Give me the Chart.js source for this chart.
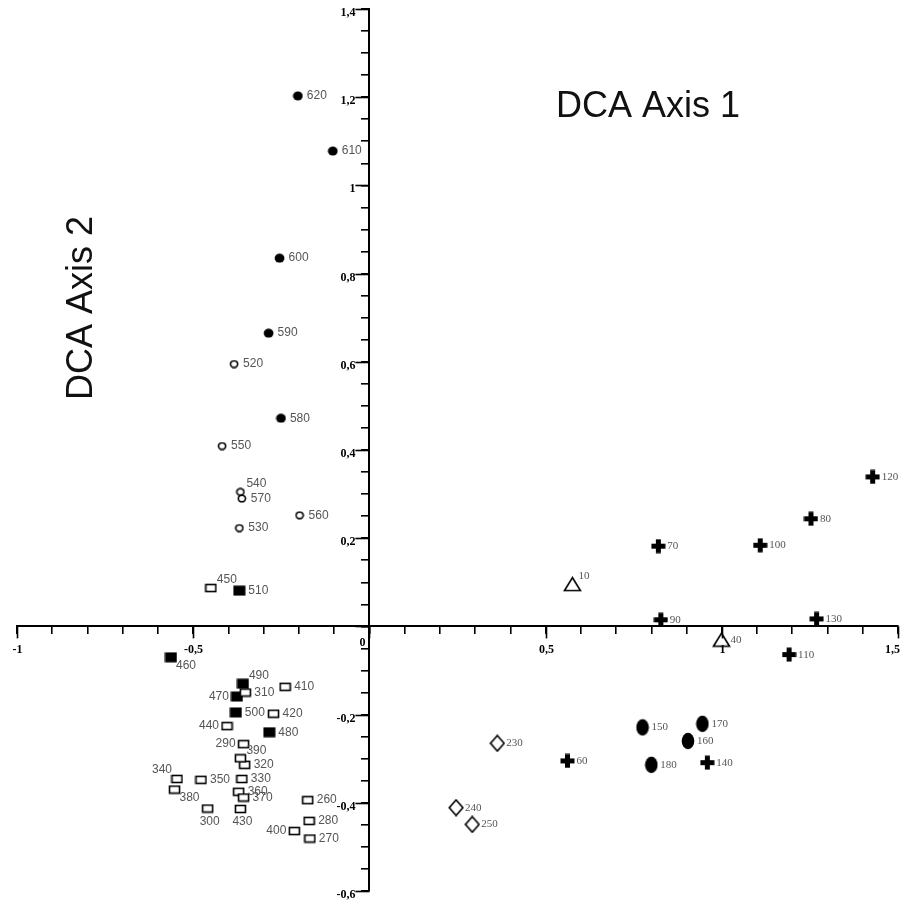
<!DOCTYPE html>
<html>
<head>
<meta charset="utf-8">
<script src="https://cdn.jsdelivr.net/npm/chart.js@4.4.1/dist/chart.umd.min.js"></script>
<style>
  html, body { margin: 0; padding: 0; background: #fff; overflow: hidden; }
  /* a few px wider than the window: chart.js keeps ~10px free on the right */
  #wrap { width: 907px; height: 902px; }
</style>
</head>
<body>
<div id="wrap"><canvas id="dca"></canvas></div>
<script>
// sites (sample depth) with their DCA scores
const sites = [10, 40,
    60, 70, 80, 90, 100, 110, 120, 130, 140,
    150, 160, 170, 180,
    230, 240, 250,
    260, 270, 280, 290, 300, 310, 320, 330, 340, 350, 360, 370, 380, 390, 400, 410, 420, 430, 440, 450,
    460, 470, 480, 490, 500, 510,
    520, 530, 540, 550, 560, 570,
    580, 590, 600, 610, 620];
const axis1 = [0.576, 0.999,
    0.562, 0.820, 1.253, 0.827, 1.109, 1.191, 1.428, 1.269, 0.959,
    0.775, 0.904, 0.945, 0.800,
    0.363, 0.246, 0.292,
    -0.175, -0.169, -0.171, -0.357, -0.459, -0.352, -0.354, -0.362, -0.546, -0.478, -0.371, -0.357, -0.553, -0.366, -0.213, -0.239, -0.272, -0.366, -0.404, -0.450,
    -0.563, -0.376, -0.284, -0.359, -0.379, -0.369,
    -0.384, -0.369, -0.366, -0.418, -0.198, -0.362,
    -0.251, -0.286, -0.255, -0.104, -0.203];
const axis2 = [0.096, -0.030,
    -0.305, 0.182, 0.244, 0.015, 0.184, -0.064, 0.339, 0.017, -0.309,
    -0.229, -0.260, -0.221, -0.314,
    -0.265, -0.411, -0.449,
    -0.394, -0.481, -0.441, -0.267, -0.413, -0.150, -0.314, -0.346, -0.346, -0.348, -0.375, -0.388, -0.370, -0.299, -0.464, -0.137, -0.198, -0.414, -0.226, 0.087,
    -0.070, -0.159, -0.240, -0.130, -0.195, 0.081,
    0.595, 0.223, 0.305, 0.409, 0.252, 0.290,
    0.472, 0.665, 0.835, 1.078, 1.203];
const groups = ['tri', 'tri',
    'plus', 'plus', 'plus', 'plus', 'plus', 'plus', 'plus', 'plus', 'plus',
    'bigdot', 'bigdot', 'bigdot', 'bigdot',
    'diamond', 'diamond', 'diamond',
    'open', 'open', 'open', 'open', 'open', 'open', 'open', 'open', 'open', 'open', 'open', 'open', 'open', 'open', 'open', 'open', 'open', 'open', 'open', 'open',
    'filled', 'filled', 'filled', 'filled', 'filled', 'filled',
    'ring', 'ring', 'ring', 'ring', 'ring', 'ring',
    'dot', 'dot', 'dot', 'dot', 'dot'];
const groupOrder = ['open', 'filled', 'ring', 'dot', 'plus', 'bigdot', 'tri', 'diamond'];

// where the site number goes when it isn't just to the right
const labelPos = {460: 'br', 490: 'tr', 470: 'l', 440: 'l', 290: 'l', 390: 'tr', 340: 'tl',
    380: 'br', 300: 'b', 430: 'b', 400: 'l', 450: 'tr', 540: 'tr', 10: 'tr'};

function marker(w, h, draw) {
    const c = document.createElement('canvas');
    c.width = w;
    c.height = h;
    const g = c.getContext('2d');
    g.fillStyle = '#000';
    g.strokeStyle = '#000';
    g.lineWidth = 1.6;
    draw(g, w, h);
    return c;
}

const markers = {
    open: marker(13, 10, g => { g.fillStyle = '#fff'; g.fillRect(1, 1, 11, 8); g.strokeRect(1.5, 1.5, 10, 7); }),
    filled: marker(13, 11, g => g.fillRect(0.5, 0.5, 12, 10)),
    ring: marker(10, 9, g => { g.fillStyle = '#fff'; g.beginPath(); g.ellipse(5, 4.5, 3.6, 3.3, 0, 0, 2 * Math.PI); g.fill(); g.stroke(); }),
    dot: marker(11, 10, g => { g.beginPath(); g.ellipse(5.5, 5, 4.9, 4.5, 0, 0, 2 * Math.PI); g.fill(); }),
    plus: marker(15, 15, g => { g.fillRect(5, 0.5, 5, 14); g.fillRect(0.5, 5, 14, 5); }),
    bigdot: marker(14, 18, g => { g.beginPath(); g.ellipse(7, 9, 6.3, 8.2, 0, 0, 2 * Math.PI); g.fill(); }),
    tri: marker(19, 16, g => { g.fillStyle = '#fff'; g.beginPath(); g.moveTo(9.5, 1.5); g.lineTo(17.5, 14.5); g.lineTo(1.5, 14.5); g.closePath(); g.fill(); g.stroke(); }),
    diamond: marker(16, 18, g => { g.fillStyle = '#fff'; g.beginPath(); g.moveTo(8, 1.2); g.lineTo(14.8, 9); g.lineTo(8, 16.8); g.lineTo(1.2, 9); g.closePath(); g.fill(); g.stroke(); })
};
const serifLabels = ['plus', 'bigdot', 'tri', 'diamond'];

const datasets = groupOrder.map(gname => {
    const pts = [];
    sites.forEach((s, i) => {
        if (groups[i] === gname) pts.push({x: axis1[i], y: axis2[i], site: s});
    });
    return {
        label: gname,
        data: pts,
        pointStyle: markers[gname],
        pointRadius: 8,
        pointHoverRadius: 8
    };
});

function fmt(v) {
    return String(Math.round(v * 10) / 10).replace('.', ',');
}

const dcaDecor = {
    id: 'dcaDecor',
    afterDatasetsDraw(chart) {
        const ctx = chart.ctx;
        ctx.save();
        ctx.fillStyle = '#555';
        chart.data.datasets.forEach((ds, di) => {
            const meta = chart.getDatasetMeta(di);
            ctx.font = serifLabels.includes(ds.label) ? '11px "Liberation Serif"' : '12px "Liberation Sans"';
            meta.data.forEach((el, i) => {
                const site = ds.data[i].site;
                const pos = labelPos[site] || 'r';
                let x = el.x, y = el.y;
                ctx.textBaseline = 'middle';
                if (pos === 'r') { ctx.textAlign = 'left'; x += 9; }
                else if (pos === 'l') { ctx.textAlign = 'right'; x -= 8; }
                else if (pos === 'tr') { ctx.textAlign = 'left'; x += 6; y -= 8; }
                else if (pos === 'br') { ctx.textAlign = 'left'; x += 5; y += 8; }
                else if (pos === 'tl') { ctx.textAlign = 'right'; x -= 5; y -= 9; }
                else if (pos === 'b') { ctx.textAlign = 'left'; x -= 8; y += 13; }
                ctx.fillText(String(site), x, y);
            });
        });
        ctx.restore();
    },
    afterDraw(chart) {
        const ctx = chart.ctx;
        const xs = chart.scales.x, ys = chart.scales.y;
        const ox = xs.getPixelForValue(0), oy = ys.getPixelForValue(0);
        ctx.save();
        ctx.strokeStyle = '#000';
        ctx.lineWidth = 1.6;
        ctx.fillStyle = '#000';
        ctx.font = 'bold 12px "Liberation Serif"';
        ctx.textBaseline = 'middle';
        // longer marks and labels for the major ticks
        ctx.textAlign = 'center';
        xs.ticks.forEach(t => {
            if (Math.round(t.value * 100) % 50 !== 0) return;
            const px = Math.round(xs.getPixelForValue(t.value)) + 0.5;
            ctx.beginPath(); ctx.moveTo(px, oy); ctx.lineTo(px, oy + 12); ctx.stroke();
            if (t.label) {
                const half = ctx.measureText(t.label).width / 2;
                ctx.fillText(t.label, Math.min(px, 900 - half), oy + 24);
            }
        });
        ctx.textAlign = 'right';
        ys.ticks.forEach(t => {
            if (Math.round(t.value * 100) % 20 !== 0) return;
            const py = Math.round(ys.getPixelForValue(t.value)) + 0.5;
            ctx.beginPath(); ctx.moveTo(ox, py); ctx.lineTo(ox - 14, py); ctx.stroke();
            if (t.label) ctx.fillText(t.label, ox - 14, py + 3);
        });
        ctx.textAlign = 'center';
        ctx.fillText('0', ox - 7, oy + 17);

        ctx.font = '36px "Liberation Sans"';
        ctx.fillStyle = '#111';
        ctx.textBaseline = 'alphabetic';
        ctx.fillText('DCA Axis 1', 648, 117);
        ctx.translate(92, 308);
        ctx.rotate(-Math.PI / 2);
        ctx.fillText('DCA Axis 2', 0, 0);
        ctx.restore();
    }
};

new Chart(document.getElementById('dca').getContext('2d'), {
    type: 'scatter',
    data: {datasets: datasets},
    options: {
        responsive: true,
        maintainAspectRatio: false,
        animation: false,
        events: [],
        layout: {padding: {left: 17, right: 5, top: 9, bottom: 11}},
        plugins: {
            legend: {display: false},
            tooltip: {enabled: false}
        },
        scales: {
            x: {
                type: 'linear',
                min: -1,
                max: 1.5,
                position: {y: 0},
                ticks: {
                    display: false,
                    stepSize: 0.1,
                    autoSkip: false,
                    callback: v => {
                        const r = Math.round(v * 100);
                        return (r !== 0 && r % 50 === 0) ? fmt(v) : '';
                    }
                },
                grid: {drawOnChartArea: false, tickLength: 7, color: '#000', lineWidth: 1.6},
                border: {color: '#000', width: 2}
            },
            y: {
                type: 'linear',
                min: -0.6,
                max: 1.4,
                position: {x: 0},
                ticks: {
                    display: false,
                    stepSize: 0.05,
                    autoSkip: false,
                    callback: v => {
                        const r = Math.round(v * 100);
                        return (r !== 0 && r % 20 === 0) ? fmt(v) : '';
                    }
                },
                grid: {drawOnChartArea: false, tickLength: 7, color: '#000', lineWidth: 1.6},
                border: {color: '#000', width: 2}
            }
        }
    },
    plugins: [dcaDecor]
});
</script>
</body>
</html>
